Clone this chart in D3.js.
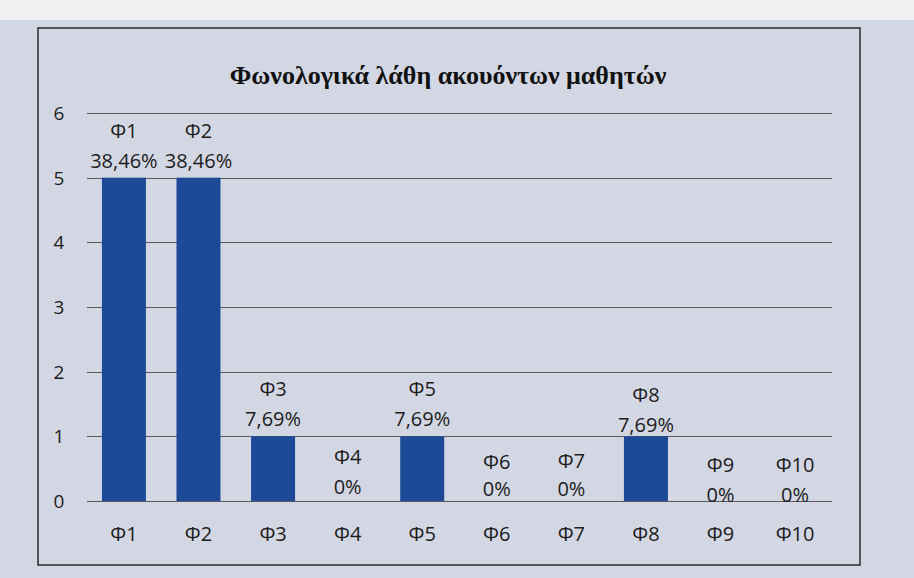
<!DOCTYPE html>
<html>
<head>
<meta charset="utf-8">
<script src="https://cdn.jsdelivr.net/npm/d3@7"></script>
<style>
  html, body { margin: 0; padding: 0; }
  body { width: 914px; height: 578px; overflow: hidden; background: #d5d9e3; }
  svg { display: block; }
</style>
</head>
<body>
<svg id="chart" width="914" height="578"></svg>
<script>
// Phonological errors of hearing pupils, per error type
const categories = ["Φ1", "Φ2", "Φ3", "Φ4", "Φ5", "Φ6", "Φ7", "Φ8", "Φ9", "Φ10"];
const errorCounts = [5, 5, 1, 0, 1, 0, 0, 1, 0, 0];
const yTicks = [0, 1, 2, 3, 4, 5, 6];
const chartTitle = "Φωνολογικά λάθη ακουόντων μαθητών";

const total = d3.sum(errorCounts);
const pctLabel = v => v === 0 ? "0%" : d3.format(".2f")(v / total * 100).replace(".", ",") + "%";

// baseline lift of the percentage line above the bar top (px); some labels were nudged
const labelLift = { "Φ4": 7, "Φ6": 5, "Φ7": 5, "Φ8": 4, "Φ9": -1, "Φ10": -1 };
const labelGap = { "Φ6": 27, "Φ7": 28 };

const FONT = "Open Sans, sans-serif";
const svg = d3.select("#chart");

// page backdrop
svg.append("rect").attr("x", 0).attr("y", 0).attr("width", 914).attr("height", 20).attr("fill", "#f1f1f3");
svg.append("rect").attr("x", 0).attr("y", 20).attr("width", 914).attr("height", 558).attr("fill", "#d3d7e3");

// chart frame
svg.append("rect")
  .attr("x", 38).attr("y", 28).attr("width", 822).attr("height", 537)
  .attr("fill", "none").attr("stroke", "#2a2a2a").attr("stroke-width", 1.5);

const x = d3.scaleBand().domain(categories).range([87, 832]).paddingInner(0.41).paddingOuter(0.2);
const y = d3.scaleLinear().domain([0, 6]).range([501, 113]);

// gridlines
svg.append("g")
  .selectAll("line").data(yTicks).join("line")
  .attr("x1", 87).attr("x2", 832)
  .attr("y1", d => Math.round(y(d)) + 0.5).attr("y2", d => Math.round(y(d)) + 0.5)
  .attr("stroke", "#5a5a5e").attr("stroke-width", 1);

// y axis labels
const yAxis = d3.axisLeft(y).tickValues(yTicks).tickFormat(d3.format("d")).tickSize(0).tickPadding(0);
svg.append("g").attr("transform", "translate(59,0)").call(yAxis)
  .call(g => g.select(".domain").remove())
  .call(g => g.selectAll("text")
    .attr("font-family", FONT).attr("font-size", 19)
    .attr("fill", "#1c1c1c").attr("text-anchor", "middle").attr("dy", "0.35em"));

// x axis labels
const xAxis = d3.axisBottom(x).tickSize(0).tickPadding(0);
svg.append("g").attr("transform", "translate(0,534)").call(xAxis)
  .call(g => g.select(".domain").remove())
  .call(g => g.selectAll("text")
    .attr("font-family", FONT).attr("font-size", 20)
    .attr("fill", "#1c1c1c").attr("dy", "0.35em"));

// bars
svg.append("g").selectAll("rect").data(categories).join("rect")
  .attr("x", d => x(d))
  .attr("width", x.bandwidth())
  .attr("y", (d, i) => y(errorCounts[i]))
  .attr("height", (d, i) => y(0) - y(errorCounts[i]))
  .attr("fill", "#1d4a97");

// data labels: category name over percentage
const lbl = svg.append("g").attr("font-family", FONT).attr("font-size", 20)
  .attr("fill", "#1c1c1c").attr("text-anchor", "middle");
categories.forEach((c, i) => {
  const cx = x(c) + x.bandwidth() / 2;
  const base = y(errorCounts[i]) - (labelLift[c] !== undefined ? labelLift[c] : 10);
  const gap = labelGap[c] !== undefined ? labelGap[c] : 30;
  lbl.append("text").attr("x", cx).attr("y", base - gap).text(c);
  lbl.append("text").attr("x", cx).attr("y", base).text(pctLabel(errorCounts[i]));
});

// title
svg.append("text")
  .attr("x", 448).attr("y", 84)
  .attr("text-anchor", "middle")
  .attr("font-family", "Liberation Serif, serif").attr("font-weight", "bold")
  .attr("font-size", 26).attr("fill", "#111")
  .text(chartTitle);
</script>
</body>
</html>
